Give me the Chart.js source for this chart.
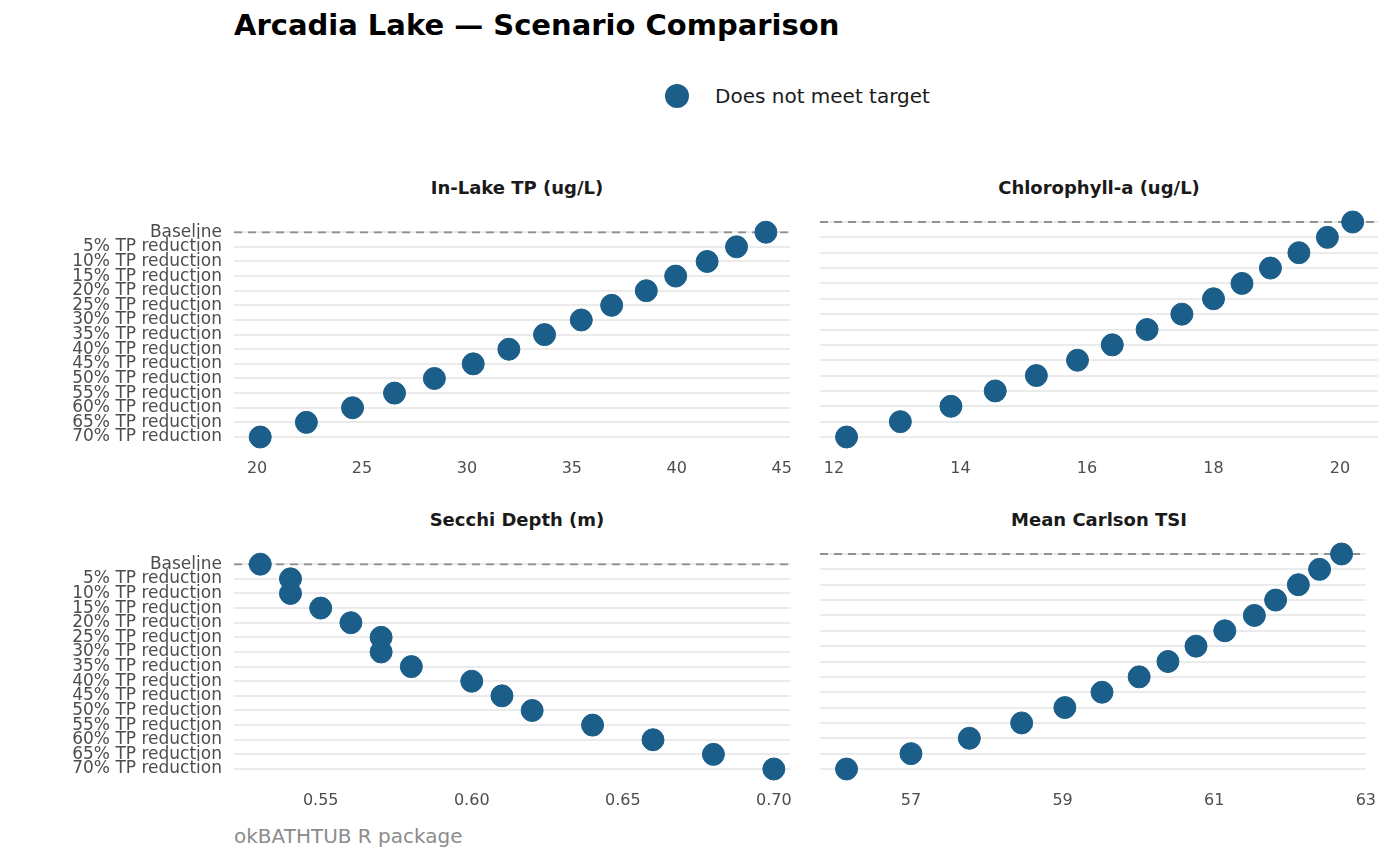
<!DOCTYPE html>
<html>
<head>
<meta charset="utf-8">
<script src="https://cdn.jsdelivr.net/npm/chart.js@4.4.1/dist/chart.umd.min.js"></script>
<style>
  body { margin: 0; width: 1400px; height: 866px; background: #fff; font-family: "DejaVu Sans", sans-serif; position: relative; overflow: hidden; }
  .abs { position: absolute; }
  #titulo { left: 234px; top: 8px; font-size: 29px; font-weight: bold; color: #000; }
  #leyenda { left: 665px; top: 84px; font-size: 20px; color: #1a1a1a; display: flex; align-items: center; }
  #leyenda span.punto { width: 24px; height: 24px; border-radius: 50%; background: #1b5e8a; display: inline-block; margin-right: 26px; }
  .faceta { font-size: 18px; font-weight: bold; color: #1a1a1a; text-align: center; width: 566px; }
  #fuente { left: 234px; top: 824px; font-size: 20px; color: #8c8c8c; }
  canvas { position: absolute; }
</style>
</head>
<body>
<div id="titulo" class="abs">Arcadia Lake — Scenario Comparison</div>
<div id="leyenda" class="abs"><span class="punto"></span>Does not meet target</div>
<div class="abs faceta" style="left:234px;top:177px">In-Lake TP (ug/L)</div>
<div class="abs faceta" style="left:816px;top:177px">Chlorophyll-a (ug/L)</div>
<div class="abs faceta" style="left:234px;top:509px">Secchi Depth (m)</div>
<div class="abs faceta" style="left:816px;top:509px">Mean Carlson TSI</div>
<div id="fuente" class="abs">okBATHTUB R package</div>

<div style="position:absolute;left:0;top:210px;width:806px;height:270px"><canvas id="c1"></canvas></div>
<div style="position:absolute;left:808px;top:210px;width:582px;height:270px"><canvas id="c2"></canvas></div>
<div style="position:absolute;left:0;top:542px;width:806px;height:270px"><canvas id="c3"></canvas></div>
<div style="position:absolute;left:808px;top:542px;width:582px;height:270px"><canvas id="c4"></canvas></div>

<script>
// escenarios (eje y)
const escenarios = ['Baseline', '5% TP reduction', '10% TP reduction', '15% TP reduction', '20% TP reduction',
  '25% TP reduction', '30% TP reduction', '35% TP reduction', '40% TP reduction', '45% TP reduction',
  '50% TP reduction', '55% TP reduction', '60% TP reduction', '65% TP reduction', '70% TP reduction'];

// valores por panel
const tp = [44.25, 42.85, 41.45, 39.95, 38.55, 36.9, 35.45, 33.7, 32.0, 30.3, 28.45, 26.55, 24.55, 22.35, 20.15];
const chla = [20.2, 19.8, 19.35, 18.9, 18.45, 18.0, 17.5, 16.95, 16.4, 15.85, 15.2, 14.55, 13.85, 13.05, 12.2];
const secchi = [0.53, 0.54, 0.54, 0.55, 0.56, 0.57, 0.57, 0.58, 0.60, 0.61, 0.62, 0.64, 0.66, 0.68, 0.70];
const tsi = [62.68, 62.39, 62.11, 61.81, 61.53, 61.14, 60.76, 60.39, 60.01, 59.52, 59.03, 58.46, 57.77, 57.0, 56.15];

// marcas del eje x
const ticksTp = [20, 25, 30, 35, 40, 45];
const ticksChla = [12, 14, 16, 18, 20];
const ticksSecchi = [0.55, 0.60, 0.65, 0.70];
const ticksTsi = [57, 59, 61, 63];

const AZUL = '#1b5e8a';

function armarGrafico(id, valores, ticks, rangoX, conEtiquetas, decimales) {
  const puntos = valores.map((v, i) => ({ x: v, y: escenarios[i] }));
  new Chart(document.getElementById(id), {
    type: 'scatter',
    data: {
      labels: escenarios,
      datasets: [
        {
          type: 'line',
          data: [{ x: rangoX[0], y: 'Baseline' }, { x: rangoX[1], y: 'Baseline' }],
          borderColor: '#8f8f8f', borderWidth: 2, borderDash: [8, 6], pointRadius: 0, order: 2
        },
        {
          data: puntos, backgroundColor: AZUL, borderColor: AZUL,
          pointRadius: 11, pointHoverRadius: 11, clip: false, order: 1
        }
      ]
    },
    options: {
      responsive: true, maintainAspectRatio: false, animation: false,
      layout: { padding: { top: 8, right: 6 } },
      plugins: { legend: { display: false }, tooltip: { enabled: false } },
      scales: {
        x: {
          type: 'linear', min: rangoX[0], max: rangoX[1],
          afterBuildTicks: ax => { ax.ticks = ticks.map(v => ({ value: v })); },
          afterFit: ax => { ax.height = 43; },
          grid: { display: false }, border: { display: false },
          ticks: { padding: 14, color: '#4d4d4d', font: { size: 16, family: 'DejaVu Sans' },
            callback: v => v.toFixed(decimales) }
        },
        y: {
          type: 'category', labels: escenarios, offset: false,
          afterFit: ax => { ax.width = conEtiquetas ? 234 : 8; },
          grid: { color: '#ebebeb', lineWidth: 2, drawTicks: false }, border: { display: false },
          ticks: { display: conEtiquetas, padding: 12, color: '#4d4d4d', font: { size: 17, family: 'DejaVu Sans' }, autoSkip: false }
        }
      }
    }
  });
}

armarGrafico('c1', tp, ticksTp, [18.9, 45.4], true, 0);
armarGrafico('c2', chla, ticksChla, [11.78, 20.6], false, 0);
armarGrafico('c3', secchi, ticksSecchi, [0.5213, 0.7055], true, 2);
armarGrafico('c4', tsi, ticksTsi, [55.8, 63], false, 0);
</script>
</body>
</html>
